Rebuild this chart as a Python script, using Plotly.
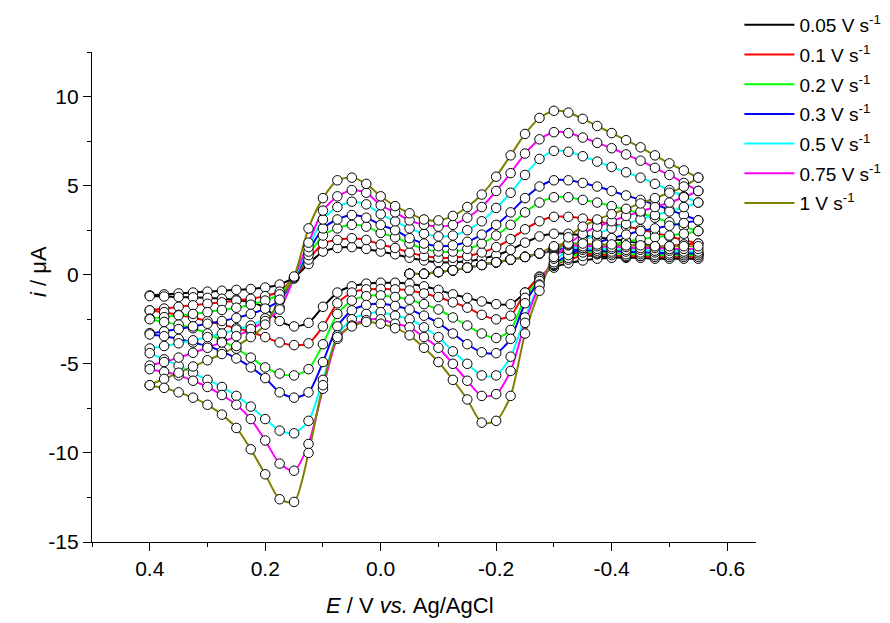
import plotly.graph_objects as go

# ---------------- data ----------------
rates = ["0.05", "0.1", "0.2", "0.3", "0.5", "0.75", "1"]
colors = ["#000000", "#FF0000", "#00FF00", "#0000FF", "#00FFFF", "#FF00FF", "#808000"]

x_tickvals = [0.4, 0.2, 0.0, -0.2, -0.4, -0.6]
x_ticktext = ["0.4", "0.2", "0.0", "-0.2", "-0.4", "-0.6"]
y_tickvals = [-15, -10, -5, 0, 5, 10]
y_ticktext = ["-15", "-10", "-5", "0", "5", "10"]

# forward sweep potentials (V)
E_fwd = [0.4, 0.375, 0.35, 0.325, 0.3, 0.275, 0.25, 0.225, 0.2, 0.175, 0.15, 0.125, 0.1,
         0.075, 0.05, 0.025, 0.0, -0.025, -0.05, -0.075, -0.1, -0.125, -0.15, -0.175, -0.2,
         -0.225, -0.25, -0.275, -0.3, -0.325, -0.35, -0.375, -0.4, -0.425, -0.45, -0.475,
         -0.5, -0.525, -0.55]
# reverse sweep potentials (V)
E_rev = [-0.55, -0.525, -0.5, -0.475, -0.45, -0.425, -0.4, -0.375, -0.35, -0.325, -0.3,
         -0.275, -0.25, -0.225, -0.2, -0.175, -0.15, -0.125, -0.1, -0.075, -0.05, -0.025,
         0.0, 0.025, 0.05, 0.075, 0.1, 0.125, 0.15, 0.175, 0.2, 0.225, 0.25, 0.275, 0.3,
         0.325, 0.35, 0.375, 0.4]
# initial sweep potentials (V)
E_init = [-0.05, -0.075, -0.1, -0.125, -0.15, -0.175, -0.2, -0.225, -0.25, -0.275, -0.3,
          -0.325, -0.35, -0.375, -0.4, -0.425, -0.45, -0.475, -0.5, -0.525, -0.55]

# currents (uA), forward sweep
i_fwd_005 = [-1.16, -1.1, -1.05, -1.0, -0.95, -0.9, -0.85, -0.8, -0.72, -0.55, -0.15, 0.6, 1.3,
             1.5, 1.55, 1.45, 1.3, 1.15, 0.95, 0.8, 0.7, 0.7, 0.75, 0.9, 1.1, 1.4, 1.8, 2.15,
             2.3, 2.3, 2.2, 2.1, 2.0, 1.9, 1.75, 1.6, 1.45, 1.3, 1.15]
i_fwd_01 = [-2.0, -1.9, -1.8, -1.72, -1.63, -1.55, -1.45, -1.35, -1.2, -0.95, -0.15, 0.85, 1.75,
            1.95, 2.05, 1.95, 1.7, 1.5, 1.25, 1.05, 0.95, 0.95, 1.05, 1.25, 1.55, 2.0, 2.55,
            3.0, 3.25, 3.25, 3.15, 3.0, 2.85, 2.7, 2.55, 2.35, 2.15, 1.95, 1.75]
i_fwd_02 = [-2.46, -2.38, -2.28, -2.2, -2.1, -1.98, -1.85, -1.68, -1.45, -1.1, -0.15, 1.1, 2.2,
            2.6, 2.8, 2.7, 2.35, 2.1, 1.75, 1.45, 1.3, 1.3, 1.45, 1.75, 2.2, 2.8, 3.5, 4.05,
            4.35, 4.35, 4.2, 4.05, 3.85, 3.65, 3.45, 3.2, 2.95, 2.7, 2.45]
i_fwd_03 = [-3.28, -3.18, -3.05, -2.9, -2.75, -2.6, -2.42, -2.2, -1.9, -1.45, -0.2, 1.3, 2.6,
            3.1, 3.35, 3.2, 2.8, 2.5, 2.05, 1.75, 1.6, 1.65, 1.85, 2.25, 2.8, 3.5, 4.3, 4.95,
            5.3, 5.3, 5.15, 4.95, 4.7, 4.45, 4.2, 3.95, 3.65, 3.35, 3.05]
i_fwd_05 = [-4.14, -4.0, -3.85, -3.68, -3.5, -3.3, -3.08, -2.85, -2.45, -1.85, -0.2, 1.55, 3.1,
            3.8, 4.1, 3.95, 3.4, 3.0, 2.6, 2.3, 2.15, 2.2, 2.5, 3.0, 3.75, 4.6, 5.6, 6.5,
            6.95, 6.9, 6.65, 6.35, 6.05, 5.75, 5.45, 5.1, 4.75, 4.4, 4.05]
i_fwd_075 = [-5.1, -4.9, -4.65, -4.38, -4.1, -3.8, -3.45, -3.05, -2.6, -1.95, -0.15, 1.8, 3.6,
             4.4, 4.75, 4.6, 3.9, 3.5, 3.05, 2.8, 2.7, 2.8, 3.2, 3.8, 4.7, 5.7, 6.8, 7.6,
             8.0, 7.95, 7.7, 7.4, 7.1, 6.75, 6.4, 6.0, 5.6, 5.15, 4.7]
i_fwd_1 = [-6.2, -5.85, -5.5, -5.15, -4.8, -4.45, -4.0, -3.5, -2.8, -1.4, -0.1, 2.6, 4.3,
           5.3, 5.45, 5.1, 4.4, 3.85, 3.45, 3.1, 3.05, 3.3, 3.8, 4.5, 5.5, 6.7, 7.9, 8.8,
           9.2, 9.1, 8.75, 8.35, 7.95, 7.55, 7.15, 6.7, 6.25, 5.85, 5.45]

# currents (uA), reverse sweep
i_rev_005 = [1.15, 1.15, 1.1, 1.1, 1.05, 1.0, 0.95, 0.9, 0.8, 0.65, 0.4, -0.1, -1.0, -1.65,
             -1.65, -1.5, -1.3, -1.1, -0.85, -0.65, -0.5, -0.45, -0.45, -0.5, -0.65, -1.0,
             -1.8, -2.7, -2.9, -2.6, -1.85, -1.55, -1.4, -1.35, -1.3, -1.27, -1.25, -1.22, -1.2]
i_rev_01 = [1.75, 1.7, 1.6, 1.55, 1.5, 1.4, 1.3, 1.2, 1.05, 0.85, 0.5, -0.15, -1.0, -2.3,
            -2.5, -2.25, -1.85, -1.55, -1.25, -1.05, -0.88, -0.82, -0.8, -0.82, -1.0, -1.6,
            -2.9, -3.85, -3.95, -3.8, -3.5, -3.2, -3.0, -2.8, -2.6, -2.4, -2.25, -2.1, -2.0]
i_rev_02 = [2.45, 2.3, 2.2, 2.1, 2.0, 1.85, 1.7, 1.5, 1.25, 0.95, 0.55, -0.25, -1.3, -3.1,
            -3.55, -3.3, -2.85, -2.4, -1.95, -1.65, -1.4, -1.25, -1.16, -1.2, -1.45, -2.2,
            -3.9, -5.3, -5.65, -5.55, -5.2, -4.65, -4.15, -3.7, -3.3, -3.0, -2.8, -2.65, -2.5]
i_rev_03 = [3.05, 2.9, 2.75, 2.6, 2.45, 2.25, 2.05, 1.8, 1.5, 1.1, 0.6, -0.35, -1.6, -3.6,
            -4.4, -4.35, -3.9, -3.3, -2.7, -2.3, -1.95, -1.75, -1.63, -1.7, -2.0, -2.9,
            -4.9, -6.6, -6.9, -6.6, -5.8, -5.2, -4.7, -4.3, -4.0, -3.8, -3.6, -3.45, -3.35]
i_rev_05 = [4.05, 3.8, 3.55, 3.35, 3.1, 2.85, 2.6, 2.3, 1.9, 1.4, 0.7, -0.55, -2.4, -4.6,
            -5.65, -5.65, -5.0, -4.3, -3.5, -2.95, -2.5, -2.3, -2.1, -2.2, -2.5, -3.4,
            -5.9, -8.2, -8.9, -8.75, -8.1, -7.4, -6.8, -6.3, -5.9, -5.5, -5.1, -4.75, -4.4]
i_rev_075 = [4.7, 4.35, 4.05, 3.8, 3.55, 3.3, 3.0, 2.7, 2.3, 1.7, 0.9, -0.6, -2.7, -5.4,
             -6.7, -6.8, -5.95, -5.0, -4.1, -3.5, -2.95, -2.75, -2.5, -2.55, -2.85, -3.6,
             -6.4, -9.5, -11.0, -10.6, -9.3, -8.1, -7.3, -6.75, -6.3, -5.95, -5.65, -5.45, -5.3]
i_rev_1 = [5.45, 4.95, 4.6, 4.3, 4.0, 3.7, 3.4, 3.1, 2.7, 2.1, 1.0, -0.9, -3.3, -6.8,
           -8.2, -8.3, -7.0, -5.9, -4.9, -4.1, -3.4, -3.0, -2.75, -2.65, -2.9, -3.5,
           -6.2, -10.0, -12.75, -12.6, -11.2, -9.8, -8.6, -7.85, -7.3, -6.9, -6.6, -6.35, -6.2]

# currents (uA), initial sweep from open circuit
i_init_start = [0.05, 0.05, 0.15, 0.25, 0.4, 0.55, 0.7, 0.85, 1.0, 1.2]
i_band_005 = [1.3, 1.2, 1.1, 1.05, 1.0, 0.95, 0.95, 0.9, 0.9, 0.9, 0.9]
i_band_01 = [1.35, 1.3, 1.2, 1.15, 1.1, 1.05, 1.05, 1.0, 1.0, 1.0, 1.0]
i_band_02 = [1.4, 1.35, 1.3, 1.25, 1.2, 1.15, 1.15, 1.1, 1.1, 1.1, 1.1]
i_band_03 = [1.45, 1.45, 1.4, 1.35, 1.3, 1.3, 1.25, 1.25, 1.2, 1.2, 1.2]
i_band_05 = [1.5, 1.55, 1.5, 1.45, 1.45, 1.4, 1.4, 1.35, 1.35, 1.3, 1.3]
i_band_075 = [1.55, 1.65, 1.6, 1.6, 1.55, 1.55, 1.5, 1.5, 1.45, 1.45, 1.45]
i_band_1 = [1.6, 1.75, 1.75, 1.7, 1.7, 1.65, 1.65, 1.6, 1.6, 1.6, 1.6]

fwd = [i_fwd_005, i_fwd_01, i_fwd_02, i_fwd_03, i_fwd_05, i_fwd_075, i_fwd_1]
rev = [i_rev_005, i_rev_01, i_rev_02, i_rev_03, i_rev_05, i_rev_075, i_rev_1]
band = [i_band_005, i_band_01, i_band_02, i_band_03, i_band_05, i_band_075, i_band_1]

FONT = "Arial, Liberation Sans, sans-serif"

fig = go.Figure()
paths = []
for k in range(len(rates)):
    xs = E_init + [None] + E_fwd + E_rev
    ys = i_init_start + band[k] + [None] + fwd[k] + rev[k]
    paths.append((xs, ys))
    fig.add_trace(go.Scatter(
        x=xs, y=ys, mode="lines", name=f"{rates[k]} V s<sup>-1</sup>",
        line=dict(color=colors[k], width=2, shape="spline", smoothing=0.7),
        connectgaps=False, legendgroup=f"g{k}", hoverinfo="skip"))

for k in range(len(rates)):
    xs, ys = paths[k]
    fig.add_trace(go.Scatter(
        x=xs, y=ys, mode="markers", showlegend=False, hoverinfo="skip",
        marker=dict(symbol="circle", size=9.5, color="white",
                    line=dict(color="black", width=1))))

axis_common = dict(
    showline=True, linecolor="black", linewidth=1.3, mirror=False,
    ticks="outside", ticklen=8, tickwidth=1.3, tickcolor="black",
    showgrid=False, zeroline=False, automargin=False,
    tickfont=dict(family=FONT, size=21, color="black"),
)

fig.update_layout(
    template="none",
    width=882, height=615,
    margin=dict(l=84, r=134, t=44, b=81, autoexpand=False),
    paper_bgcolor="white", plot_bgcolor="white",
    font=dict(family=FONT, color="black"),
    xaxis=dict(range=[0.5, -0.65], tickmode="array", tickvals=x_tickvals, ticktext=x_ticktext,
               minor=dict(dtick=0.1, tick0=0.1, ticklen=4, tickwidth=1.3, tickcolor="black",
                          ticks="outside"),
               **axis_common),
    yaxis=dict(range=[-15, 12.5], tickmode="array", tickvals=y_tickvals, ticktext=y_ticktext,
               minor=dict(dtick=2.5, tick0=0, ticklen=4, tickwidth=1.3, tickcolor="black",
                          ticks="outside"),
               **axis_common),
    legend=dict(x=0.975, y=1.094, xanchor="left", yanchor="top",
                bgcolor="rgba(0,0,0,0)", font=dict(family=FONT, size=19, color="black"),
                tracegroupgap=2, itemwidth=50, traceorder="grouped"),
    showlegend=True,
    annotations=[
        dict(text="<i>E</i> / V <i>vs.</i> Ag/AgCl", xref="paper", yref="paper",
             x=0.479, y=-0.1295, xanchor="center", yanchor="middle", showarrow=False,
             font=dict(family=FONT, size=22, color="black")),
        dict(text="<i>i</i> / μA", xref="paper", yref="paper",
             x=-0.0813, y=0.551, xanchor="center", yanchor="middle", showarrow=False,
             textangle=-90, font=dict(family=FONT, size=22, color="black")),
    ],
)

fig.write_html("out.html")
